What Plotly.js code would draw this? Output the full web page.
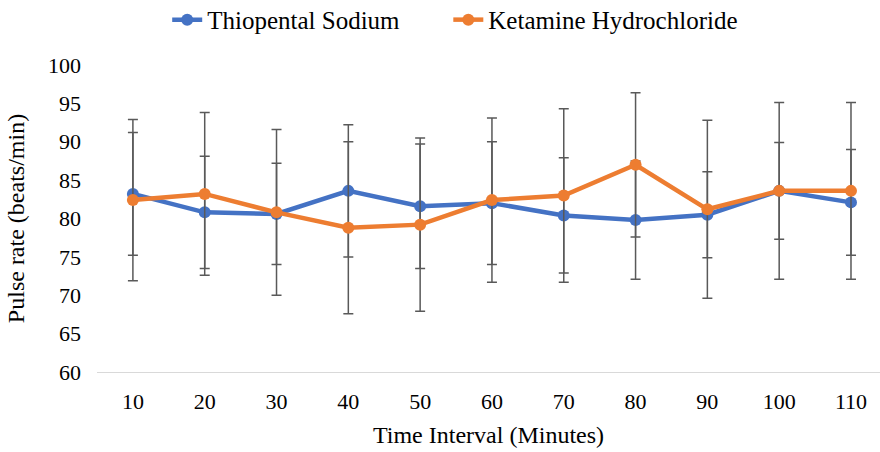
<!DOCTYPE html>
<html>
<head>
<meta charset="utf-8">
<script src="https://cdn.plot.ly/plotly-3.0.1.min.js"></script>
<style>html,body{margin:0;padding:0;background:#fff;}#chart{width:880px;height:452px;}</style>
</head>
<body>
<div id="chart"></div>
<script>
const timeIntervals = [10, 20, 30, 40, 50, 60, 70, 80, 90, 100, 110];
const thiopentalMean = [83.2, 80.8, 80.6, 83.6, 81.6, 82.0, 80.4, 79.8, 80.5, 83.6, 82.1];
const thiopentalSD   = [8.0, 7.3, 6.6, 8.6, 8.1, 8.0, 7.5, 7.7, 5.6, 6.3, 6.9];
const ketamineMean   = [82.4, 83.2, 80.8, 78.8, 79.2, 82.4, 83.0, 87.0, 81.2, 83.6, 83.6];
const ketamineSD     = [10.5, 10.6, 10.8, 11.2, 11.3, 10.7, 11.3, 9.4, 11.6, 11.5, 11.5];
const yTicks = [60, 65, 70, 75, 80, 85, 90, 95, 100];

const FONT = '"Liberation Serif", "Times New Roman", Times, serif';
const errStyle = {type: 'data', visible: true, color: '#595959', thickness: 1.5, width: 5};

const traces = [
  {
    x: timeIntervals, y: thiopentalMean, name: 'Thiopental Sodium\u00A0\u00A0\u00A0\u00A0\u00A0\u00A0\u00A0',
    type: 'scatter', mode: 'lines+markers',
    line: {color: '#4472C4', width: 4.5},
    marker: {color: '#4472C4', size: 12},
    error_y: Object.assign({array: thiopentalSD}, errStyle)
  },
  {
    x: timeIntervals, y: ketamineMean, name: 'Ketamine Hydrochloride',
    type: 'scatter', mode: 'lines+markers',
    line: {color: '#ED7D31', width: 4.5},
    marker: {color: '#ED7D31', size: 12},
    error_y: Object.assign({array: ketamineSD}, errStyle)
  }
];

const layout = {
  width: 880, height: 452,
  margin: {l: 97, r: 0, t: 65, b: 80},
  paper_bgcolor: '#fff', plot_bgcolor: '#fff',
  font: {family: FONT, size: 22, color: '#000'},
  showlegend: true,
  legend: {
    orientation: 'h', xref: 'container', yref: 'container',
    x: 0.19, xanchor: 'left', y: 0.956, yanchor: 'middle',
    font: {family: FONT, size: 25, color: '#000'}
  },
  xaxis: {
    range: [5, 114.04], tickmode: 'array', tickvals: timeIntervals,
    ticktext: timeIntervals.map(String),
    showgrid: false, zeroline: false,
    showline: true, linecolor: '#d9d9d9', linewidth: 1,
    ticks: '', ticklabelstandoff: 10,
    tickfont: {family: FONT, size: 22, color: '#000'},
    title: {text: 'Time Interval (Minutes)', font: {family: FONT, size: 24, color: '#000'}, standoff: 12}
  },
  yaxis: {
    range: [60, 100], tickmode: 'array', tickvals: yTicks,
    showgrid: false, zeroline: false, showline: false,
    ticks: '', ticklabelstandoff: 15,
    tickfont: {family: FONT, size: 22, color: '#000'},
    title: {text: 'Pulse rate (beats/min)', font: {family: FONT, size: 24, color: '#000'}, standoff: 16}
  }
};

Plotly.newPlot('chart', traces, layout, {displayModeBar: false, staticPlot: true});
</script>
</body>
</html>
